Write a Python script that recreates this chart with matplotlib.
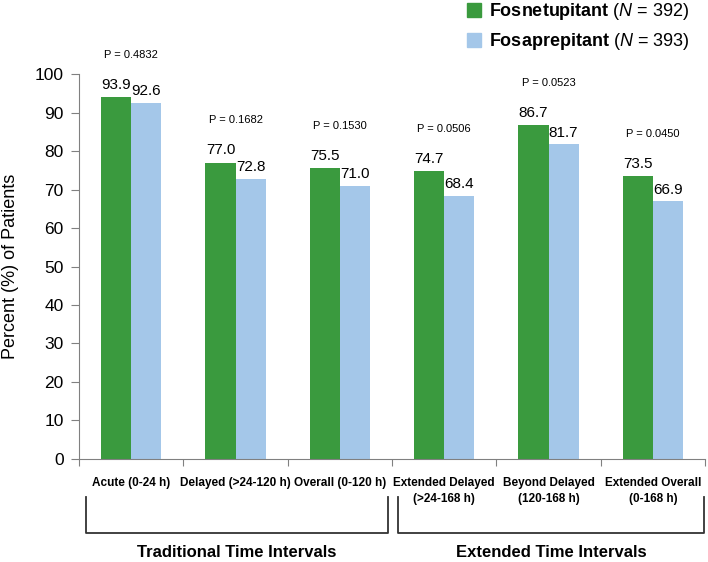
import matplotlib
matplotlib.use("Agg")
import matplotlib.pyplot as plt
import matplotlib.transforms as mtransforms
from matplotlib.patches import Patch
import numpy as np

plt.rcParams['font.family'] = ['Liberation Sans', 'DejaVu Sans']
plt.rcParams['mathtext.fontset'] = 'custom'
plt.rcParams['mathtext.rm'] = 'Liberation Sans'
plt.rcParams['mathtext.it'] = 'Liberation Sans:italic'
plt.rcParams['mathtext.bf'] = 'Liberation Sans:bold'

# data
categories = ["Acute (0-24 h)", "Delayed (>24-120 h)", "Overall (0-120 h)",
              "Extended Delayed\n(>24-168 h)", "Beyond Delayed\n(120-168 h)",
              "Extended Overall\n(0-168 h)"]
fosnetupitant = [93.9, 77.0, 75.5, 74.7, 86.7, 73.5]
fosaprepitant = [92.6, 72.8, 71.0, 68.4, 81.7, 66.9]
p_values = ["P = 0.4832", "P = 0.1682", "P = 0.1530", "P = 0.0506", "P = 0.0523", "P = 0.0450"]
groups = ["Traditional Time Intervals", "Extended Time Intervals"]
series_names = [r"$\bf{Fosnetupitant}$ ($\it{N}$ = 392)",
                r"$\bf{Fosaprepitant}$ ($\it{N}$ = 393)"]

green = "#3a9a3e"
blue = "#a4c7e9"

fig = plt.figure(figsize=(7.08, 5.62), dpi=100)
ax = fig.add_axes([0.1116, 0.1833, 0.8842, 0.685])

x = np.arange(len(categories))
w = 0.288
ax.bar(x - w / 2, fosnetupitant, w, color=green)
ax.bar(x + w / 2, fosaprepitant, w, color=blue)

for xi, v in zip(x, fosnetupitant):
    ax.text(xi - w / 2, v + 3.2, f"{v:.1f}", ha='center', va='center', fontsize=11)
for xi, v in zip(x, fosaprepitant):
    ax.text(xi + w / 2, v + 3.0, f"{v:.1f}", ha='center', va='center', fontsize=11)

# P value sits ~11 points above the taller bar of each pair
for xi, p, a, b in zip(x, p_values, fosnetupitant, fosaprepitant):
    ax.text(xi, max(a, b) + 11, p, ha='center', va='center', fontsize=8)

ax.set_xlim(-0.5, len(categories) - 0.5)
ax.set_ylim(0, 100)
ax.set_yticks(np.arange(0, 101, 10))
ax.tick_params(axis='y', labelsize=12.5, length=6, color='#808080', pad=5)
ax.set_ylabel("Percent (%) of Patients", fontsize=13)
ax.yaxis.label.set_va('center')
ax.yaxis.set_label_coords(-0.11, 0.5)

ax.set_xticks(np.arange(-0.5, len(categories), 1.0))
ax.set_xticklabels([])
ax.tick_params(axis='x', length=5, color='#808080')

for s in ['top', 'right']:
    ax.spines[s].set_visible(False)
for s in ['left', 'bottom']:
    ax.spines[s].set_color('#808080')

trans = mtransforms.blended_transform_factory(ax.transData, ax.transAxes)
for xi, c in zip(x, categories):
    ax.text(xi, -0.047, c, transform=trans, ha='center', va='top',
            fontsize=8.5, fontweight='bold', linespacing=1.4)

# brackets under the two groups
spans = [(-0.433, 2.463), (2.559, 5.49)]
for (a, b), g in zip(spans, groups):
    ax.plot([a, a, b, b], [-0.099, -0.192, -0.192, -0.099], color='#333333', lw=1.3,
            transform=trans, clip_on=False)
    ax.text((a + b) / 2, -0.244, g, transform=trans, ha='center', va='center',
            fontsize=12, fontweight='bold')

handles = [Patch(color=green), Patch(color=blue)]
fig.legend(handles, series_names, loc='upper left', bbox_to_anchor=(466 / 708, 1.0),
           frameon=False, fontsize=13, handlelength=0.8, handleheight=0.8,
           handletextpad=0.45, labelspacing=0.5, borderpad=0.05, borderaxespad=0)

fig.savefig("out.png", dpi=100)
